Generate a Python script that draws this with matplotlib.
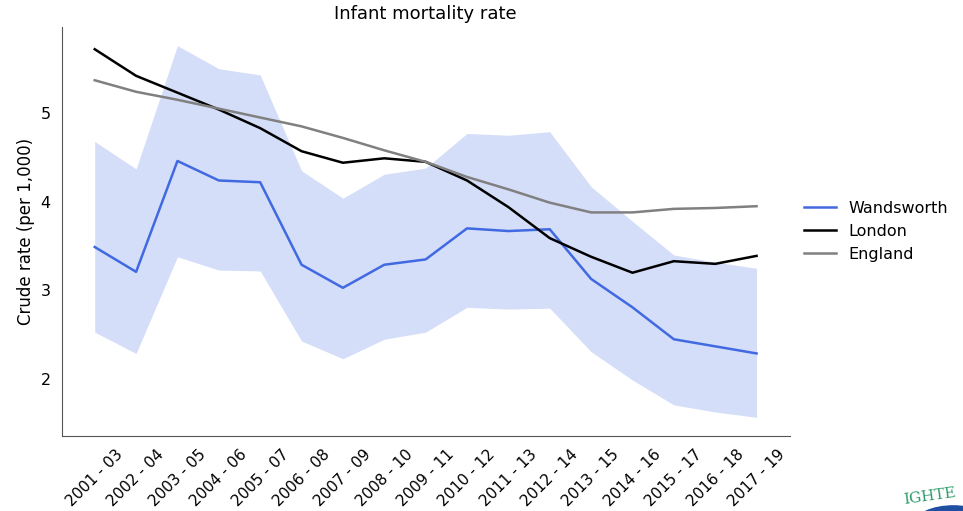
import numpy as np
import matplotlib
matplotlib.use("Agg")
import matplotlib.pyplot as plt
from matplotlib.patches import Ellipse

periods = ["2001 - 03", "2002 - 04", "2003 - 05", "2004 - 06", "2005 - 07",
           "2006 - 08", "2007 - 09", "2008 - 10", "2009 - 11", "2010 - 12",
           "2011 - 13", "2012 - 14", "2013 - 15", "2014 - 16", "2015 - 17",
           "2016 - 18", "2017 - 19"]
wandsworth = [3.49, 3.21, 4.46, 4.24, 4.22, 3.29, 3.03, 3.29, 3.35, 3.70,
              3.67, 3.69, 3.13, 2.81, 2.45, 2.37, 2.29]
wand_upper = [4.68, 4.37, 5.76, 5.50, 5.43, 4.35, 4.04, 4.31, 4.38, 4.77,
              4.75, 4.79, 4.17, 3.78, 3.40, 3.32, 3.25]
wand_lower = [2.53, 2.29, 3.38, 3.23, 3.22, 2.43, 2.23, 2.45, 2.53, 2.81,
              2.79, 2.80, 2.31, 1.99, 1.71, 1.63, 1.57]
london = [5.72, 5.42, 5.23, 5.04, 4.83, 4.57, 4.44, 4.49, 4.45, 4.24,
          3.94, 3.59, 3.38, 3.20, 3.33, 3.30, 3.39]
england = [5.37, 5.24, 5.15, 5.05, 4.95, 4.85, 4.72, 4.58, 4.45, 4.28,
           4.14, 3.99, 3.88, 3.88, 3.92, 3.93, 3.95]

fig = plt.figure(figsize=(9.63, 5.11), dpi=100)
ax = fig.add_axes([0.064, 0.147, 0.756, 0.80])

x = np.arange(len(periods))
ax.fill_between(x, wand_lower, wand_upper, color="royalblue", alpha=0.22, lw=0)
ax.plot(x, wandsworth, color="royalblue", lw=1.8, label="Wandsworth")
ax.plot(x, london, color="black", lw=1.8, label="London")
ax.plot(x, england, color="grey", lw=1.8, label="England")

ax.set_xticks(x)
ax.set_xticklabels(periods, rotation=45, fontsize=11)
ax.set_yticks([2, 3, 4, 5])
ax.tick_params(axis="y", labelsize=11.5)
ax.tick_params(length=0, pad=8)
ax.set_ylabel("Crude rate (per 1,000)", fontsize=12)
ax.set_title("Infant mortality rate", fontsize=13)

for s in ["top", "right"]:
    ax.spines[s].set_visible(False)
for s in ["left", "bottom"]:
    ax.spines[s].set_color("#555555")

ax.legend(loc="center left", bbox_to_anchor=(1.0, 0.5), frameon=False, fontsize=11.5)

# partial logo in the corner
fig.text(0.965, 0.008, "IGHTE", color="#2e9b6a", fontsize=11, family="serif",
         rotation=8, ha="center", va="bottom")
fig.patches.append(Ellipse((0.99, -0.025), 0.08, 0.07, transform=fig.transFigure,
                           color="#1f4fa0", figure=fig))

fig.savefig("out.png", dpi=100)
